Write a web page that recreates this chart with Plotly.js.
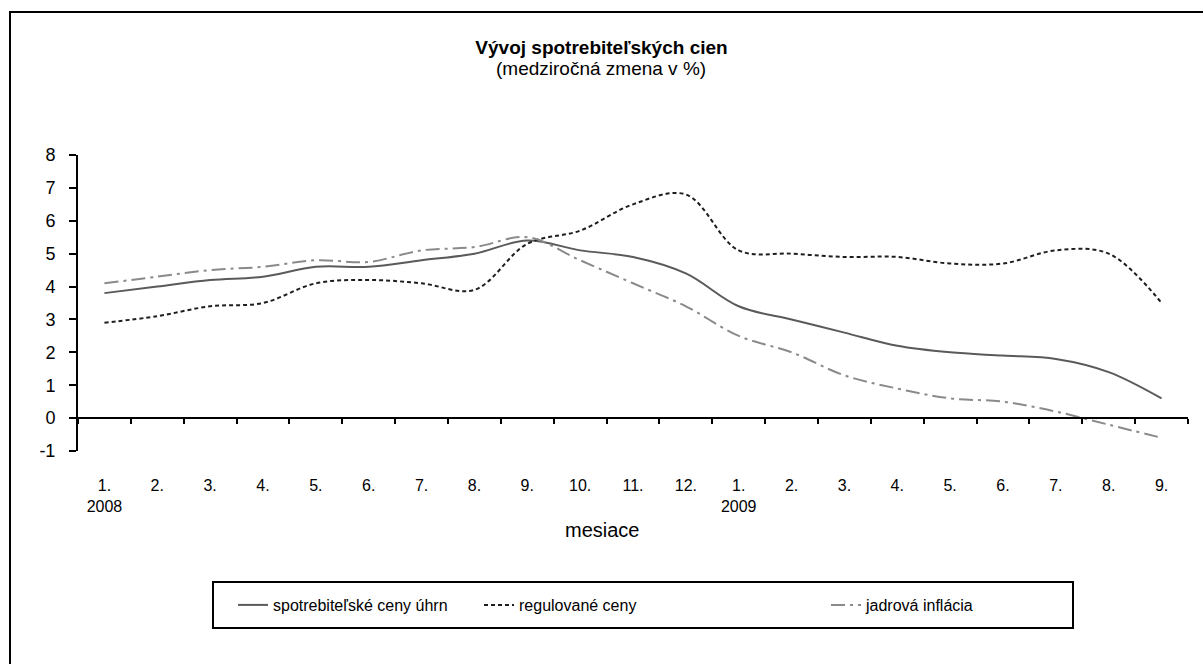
<!DOCTYPE html>
<html>
<head>
<meta charset="utf-8">
<script src="https://cdn.plot.ly/plotly-3.0.1.min.js"></script>
<style>
  html, body { margin: 0; padding: 0; background: #fff; overflow: hidden; }
  #wrap { position: relative; width: 1203px; height: 664px; overflow: hidden; }
  #chart { position: absolute; left: 0; top: 0; width: 1203px; height: 664px; }
  #frame { position: absolute; left: 9px; top: 11px; width: 1400px; height: 1000px;
           border-left: 2px solid #000; border-top: 2px solid #000; pointer-events: none; }
</style>
</head>
<body>
<div id="wrap">
  <div id="chart"></div>
  <div id="frame"></div>
</div>
<script>
// ---- data ----
const periodKeys = ["2008-01","2008-02","2008-03","2008-04","2008-05","2008-06","2008-07","2008-08","2008-09","2008-10","2008-11","2008-12",
                    "2009-01","2009-02","2009-03","2009-04","2009-05","2009-06","2009-07","2009-08","2009-09"];
const tickLabels = ["1.<br>2008","2.","3.","4.","5.","6.","7.","8.","9.","10.","11.","12.",
                    "1.<br>2009","2.","3.","4.","5.","6.","7.","8.","9."];
const cpiTotal   = [3.8,4.0,4.2,4.3,4.6,4.6,4.8,5.0,5.4,5.1,4.9,4.4,3.4,3.0,2.6,2.2,2.0,1.9,1.8,1.4,0.6];
const regulated  = [2.9,3.1,3.4,3.5,4.1,4.2,4.1,3.9,5.3,5.7,6.5,6.8,5.1,5.0,4.9,4.9,4.7,4.7,5.1,5.0,3.5];
const coreInfl   = [4.1,4.3,4.5,4.6,4.8,4.75,5.1,5.2,5.5,4.8,4.1,3.4,2.5,2.0,1.3,0.9,0.6,0.5,0.2,-0.2,-0.6];
const seriesNames = ["spotrebiteľské ceny úhrn","regulované ceny","jadrová inflácia"];
const yTicks = [-1,0,1,2,3,4,5,6,7,8];
const yTickText = ["-1","0","1","2","3","4","5","6","7","8"];

const FONT = "'Liberation Sans', Arial, Helvetica, sans-serif";

// pixel helpers for the plot area (l=78, w=1110, t=155, h=296)
const PL = 78, PW = 1110, PB = 451, PH = 296;
const px = v => (v - PL) / PW;
const py = v => (PB - v) / PH;

const traces = [
  { x: periodKeys, y: cpiTotal, name: seriesNames[0], type: "scatter", mode: "lines", legendwidth: 201,
    line: { color: "#5a5a5a", width: 2, shape: "spline", smoothing: 1 } },
  { x: periodKeys, y: regulated, name: seriesNames[1], type: "scatter", mode: "lines", legendwidth: 302,
    line: { color: "#1e1e1e", width: 2, dash: "4px,3px", shape: "spline", smoothing: 1 } },
  { x: periodKeys, y: coreInfl, name: seriesNames[2], type: "scatter", mode: "lines", legendwidth: 160,
    line: { color: "#8a8a8a", width: 2, dash: "14px,5px,3px,5px", shape: "spline", smoothing: 1 } }
];

const layout = {
  width: 1203, height: 664,
  margin: { l: 78, r: 15, t: 155, b: 213 },
  paper_bgcolor: "#fff", plot_bgcolor: "#fff",
  font: { family: FONT, color: "#000", size: 17 },
  showlegend: true,
  title: { text: "<b>Vývoj spotrebiteľských cien</b>", font: { family: FONT, size: 19, color: "#000" },
           x: 0.5, xanchor: "center", xref: "container", y: 1 - 47/664, yanchor: "middle", yref: "container" },
  xaxis: {
    type: "category", categoryorder: "array", categoryarray: periodKeys,
    tickmode: "array", tickvals: periodKeys, ticktext: tickLabels,
    range: [-0.5, periodKeys.length - 0.5],
    anchor: "free", position: 1/9,
    showline: true, linecolor: "#000", linewidth: 2,
    ticks: "outside", tickson: "boundaries", ticklen: 5, tickwidth: 2, tickcolor: "#000",
    ticklabelstandoff: 53,
    showgrid: false, zeroline: false,
    tickfont: { family: FONT, size: 16, color: "#000" }
  },
  yaxis: {
    range: [-1, 8], tickmode: "array", tickvals: yTicks, ticktext: yTickText,
    showline: true, linecolor: "#000", linewidth: 2,
    ticks: "outside", ticklen: 7, tickwidth: 2, tickcolor: "#000",
    ticklabelstandoff: 10,
    showgrid: false, zeroline: false,
    tickfont: { family: FONT, size: 18, color: "#000" }
  },
  legend: {
    orientation: "h", x: px(233), xanchor: "left",
    y: py(605), yanchor: "middle",
    borderwidth: 0, bgcolor: "rgba(0,0,0,0)",
    font: { family: FONT, size: 16, color: "#000" }
  },
  shapes: [
    { type: "rect", xref: "paper", yref: "paper", x0: px(213), x1: px(1073), y0: py(628), y1: py(582),
      line: { color: "#000", width: 2 }, fillcolor: "rgba(0,0,0,0)", layer: "below" }
  ],
  annotations: [
    { text: "(medziročná zmena v %)", xref: "paper", yref: "paper",
      x: px(601), y: py(68), xanchor: "center", yanchor: "middle",
      showarrow: false, font: { family: FONT, size: 19, color: "#000" } },
    { text: "mesiace", xref: "paper", yref: "paper",
      x: px(602), y: py(530), xanchor: "center", yanchor: "middle",
      showarrow: false, font: { family: FONT, size: 20, color: "#000" } }
  ]
};

Plotly.newPlot("chart", traces, layout, { displayModeBar: false, staticPlot: true });
</script>
</body>
</html>
